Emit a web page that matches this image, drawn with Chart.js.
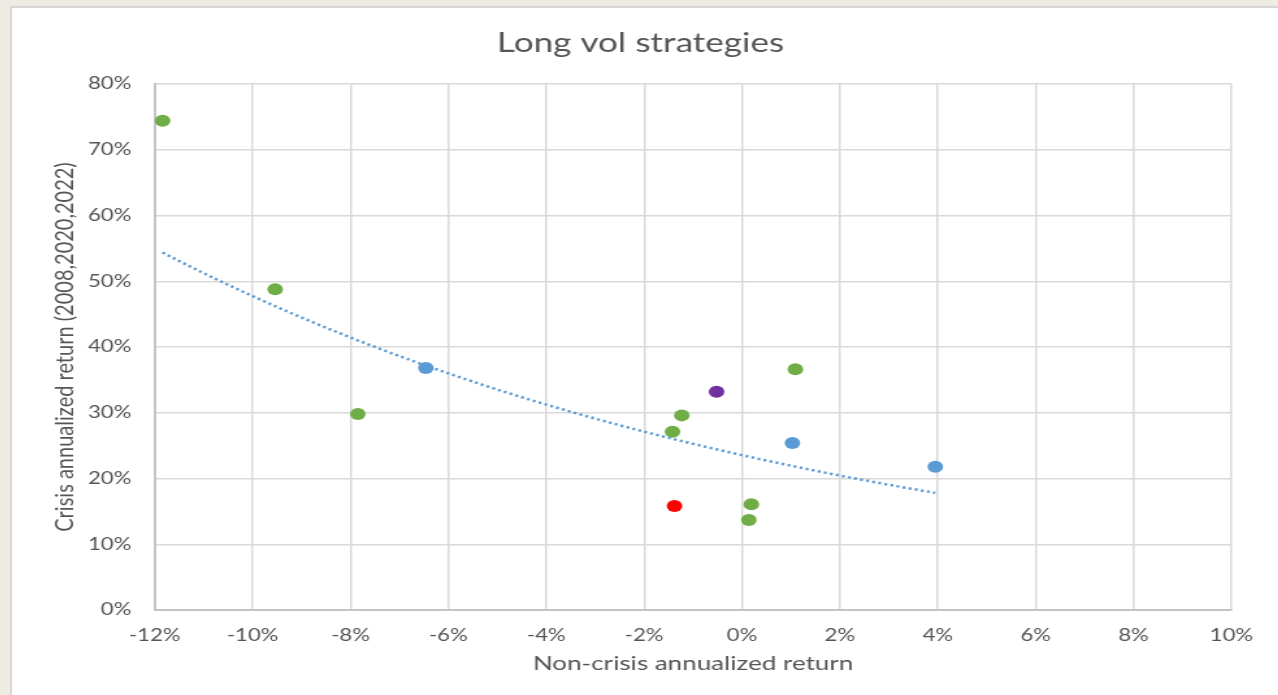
<!DOCTYPE html>
<html>
<head>
<meta charset="utf-8">
<script src="https://cdn.jsdelivr.net/npm/chart.js@4/dist/chart.umd.min.js"></script>
<style>
  html, body { margin: 0; padding: 0; background: #eeebe2; overflow: hidden; }
  #frame {
    position: absolute; left: 10px; top: 6px; width: 1280px; height: 700px;
    background: #ffffff; border-left: 2px solid #d6d6d6; border-top: 2px solid #d6d6d6;
  }
  /* the source picture is stretched sideways, so the chart is drawn narrow and widened */
  #wrap {
    position: absolute; left: 12px; top: 8px; width: 974px; height: 687px;
    transform: scaleX(1.3); transform-origin: 0 0;
  }
</style>
</head>
<body>
<div id="frame"></div>
<div id="wrap"><canvas id="vol" width="974" height="687"></canvas></div>
<script>
// ------------------------------------------ data -------------------
var greenX = [-11.84, -9.54, -7.85, 1.09, -1.23, -1.42, 0.19, 0.14];
var greenY = [74.4, 48.8, 29.8, 36.6, 29.6, 27.1, 16.1, 13.7];
var blueX = [-6.46, 1.03, 3.95];
var blueY = [36.8, 25.4, 21.8];
var purpleX = [-0.52];
var purpleY = [33.2];
var redX = [-1.38];
var redY = [15.8];

var xTicks = [-12, -10, -8, -6, -4, -2, 0, 2, 4, 6, 8, 10];
var yTicks = [0, 10, 20, 30, 40, 50, 60, 70, 80];

function toPoints(xs, ys) {
  return xs.map((x, i) => ({ x: x, y: ys[i] }));
}

// exponential trendline (least squares on ln y), like Excel's
function expTrend() {
  var xs = greenX.concat(blueX, purpleX, redX);
  var ys = greenY.concat(blueY, purpleY, redY);
  var n = xs.length;
  var mx = xs.reduce((a, b) => a + b, 0) / n;
  var ml = ys.reduce((a, b) => a + Math.log(b), 0) / n;
  var sxx = 0, sxy = 0;
  for (var i = 0; i < n; i++) {
    sxx += (xs[i] - mx) * (xs[i] - mx);
    sxy += (xs[i] - mx) * (Math.log(ys[i]) - ml);
  }
  var b = sxy / sxx;
  var a = Math.exp(ml - b * mx);
  var lo = Math.min.apply(null, xs), hi = Math.max.apply(null, xs);
  var pts = [];
  for (var k = 0; k <= 60; k++) {
    var x = lo + (hi - lo) * k / 60;
    pts.push({ x: x, y: a * Math.exp(b * x) });
  }
  return pts;
}

var textColor = "#555555";
var fontName = "Lato, 'Open Sans', sans-serif";

function dots(data, color) {
  return {
    data: data,
    showLine: false,
    pointRadius: 6,
    pointBackgroundColor: color,
    pointBorderColor: color,
    pointBorderWidth: 0,
  };
}

var ctx = document.getElementById("vol");

// ------------------------------------------ chart -------------------
var volChart = new Chart(ctx, {
  type: "scatter",
  data: {
    datasets: [
      {
        data: expTrend(),
        showLine: true,
        pointRadius: 0,
        borderColor: "#5b9bd5",
        borderWidth: 2.5,
        borderDash: [2.2, 2.6],
        fill: false,
      },
      dots(toPoints(greenX, greenY), "#70ad47"),
      dots(toPoints(blueX, blueY), "#5b9bd5"),
      dots(toPoints(purpleX, purpleY), "#7030a0"),
      dots(toPoints(redX, redY), "#ff0000"),
    ],
  },
  options: {
    responsive: false,
    animation: false,
    layout: { padding: { left: 29, right: 36, top: 0, bottom: 19 } },
    plugins: {
      legend: { display: false },
      tooltip: { enabled: false },
      title: {
        display: true,
        text: "Long vol strategies",
        color: textColor,
        font: { family: fontName, size: 27, weight: "normal" },
        padding: { top: 19, bottom: 24.6 },
      },
    },
    scales: {
      x: {
        type: "linear",
        min: -12,
        max: 10,
        afterBuildTicks: (scale) => {
          scale.ticks = xTicks.map((v) => ({ value: v }));
        },
        afterFit: (scale) => {
          scale.height = 66;
        },
        ticks: {
          color: textColor,
          font: { family: fontName, size: 17 },
          padding: 15,
          maxRotation: 0,
          callback: (v) => v + "%",
        },
        grid: { color: "#d9d9d9", lineWidth: 1.5, drawTicks: false },
        border: { color: "#c4c4c4", width: 2 },
        title: {
          display: true,
          text: "Non-crisis annualized return",
          color: textColor,
          font: { family: fontName, size: 20 },
          padding: 0,
        },
      },
      y: {
        type: "linear",
        min: 0,
        max: 80,
        afterBuildTicks: (scale) => {
          scale.ticks = yTicks.map((v) => ({ value: v }));
        },
        afterFit: (scale) => {
          scale.width = 80.8;
        },
        ticks: {
          color: textColor,
          font: { family: fontName, size: 17 },
          padding: 18,
          callback: (v) => v + "%",
        },
        grid: { color: "#d9d9d9", lineWidth: 1.5, drawTicks: false },
        border: { color: "#c4c4c4", width: 2 },
        title: {
          display: true,
          text: "Crisis annualized return (2008,2020,2022)",
          color: textColor,
          font: { family: fontName, size: 20 },
          padding: 0,
        },
      },
    },
  },
});
</script>
</body>
</html>
